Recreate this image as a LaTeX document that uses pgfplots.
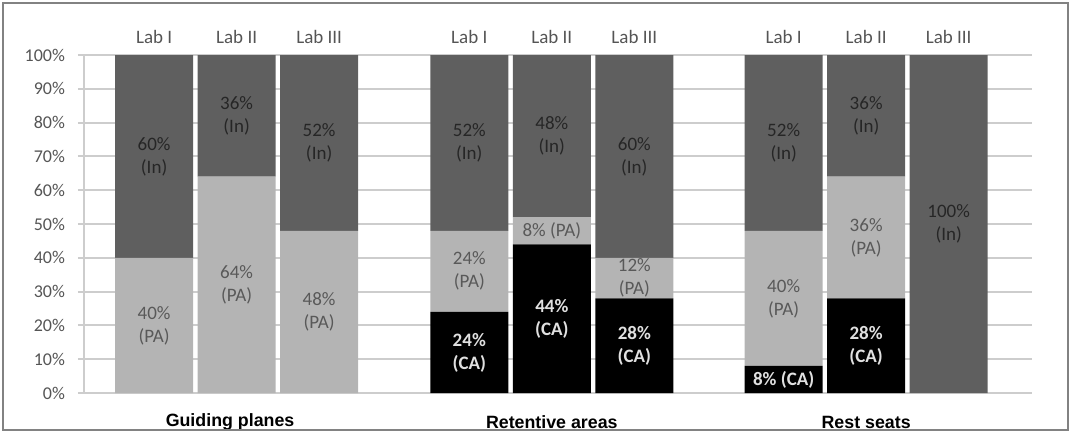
\documentclass[border=0pt]{standalone}
\usepackage{pgfplots}
\pgfplotsset{compat=1.18}
\usepackage{fontspec}
\setmainfont{Carlito}
\newfontfamily\arialf{Liberation Sans}
\definecolor{cIn}{RGB}{95,95,95}
\definecolor{cPA}{RGB}{180,180,180}
\definecolor{cCA}{RGB}{0,0,0}
\definecolor{gridc}{RGB}{205,205,205}
\definecolor{txt}{RGB}{85,85,85}
\definecolor{framec}{RGB}{130,130,130}
\tikzset{lbl/.style={align=center, font=\fontsize{9.5}{11.5}\selectfont, text=black!85},
  pl/.style={align=center, font=\fontsize{9.5}{11.5}\selectfont, text=black!65},
  wl/.style={align=center, font=\bfseries\fontsize{9.5}{11.5}\selectfont, text=white!88!black},
  grp/.style={font=\arialf\bfseries\fontsize{8.9}{10}\selectfont, yshift=-14.5pt}}
\begin{document}
\begin{tikzpicture}
\useasboundingbox (-42pt,-21pt) rectangle (494.5pt,196.5pt);
\begin{axis}[
  name=ax, at={(0,0)}, anchor=south west,
  scale only axis, width=474pt, height=169pt,
  ybar stacked, bar width=0.945,
  xmin=-0.85, xmax=10.64, ymin=0, ymax=100,
  axis x line*=top, axis y line*=left,
  x axis line style={draw=gridc, line width=1pt},
  y axis line style={draw=gridc, line width=1pt},
  xtick={0,1,2,3.82,4.82,5.82,7.63,8.63,9.63},
  xticklabels={Lab I,Lab II,Lab III,Lab I,Lab II,Lab III,Lab I,Lab II,Lab III},
  x tick style={draw=none},
  xticklabel style={font=\fontsize{9.5}{10}\selectfont, text=txt, yshift=-1pt},
  ytick={0,10,...,100},
  yticklabel={\pgfmathprintnumber{\tick}\%},
  yticklabel style={font=\fontsize{9}{10}\selectfont, text=txt, xshift=-3pt},
  /pgf/number format/assume math mode=true,
  y tick style={draw=gridc, line width=1pt},
  tick align=outside, major tick length=3pt,
  ymajorgrids, grid style={draw=gridc, line width=1pt},
  clip=false,
]
\addplot[fill=cCA, draw=none] coordinates {(0,0) (1,0) (2,0) (3.82,24) (4.82,44) (5.82,28) (7.63,8) (8.63,28) (9.63,0)};
\addplot[fill=cPA, draw=none] coordinates {(0,40) (1,64) (2,48) (3.82,24) (4.82,8) (5.82,12) (7.63,40) (8.63,36) (9.63,0)};
\addplot[fill=cIn, draw=none] coordinates {(0,60) (1,36) (2,52) (3.82,52) (4.82,48) (5.82,60) (7.63,52) (8.63,36) (9.63,100)};
\coordinate (l1) at (axis cs:0,70);
\coordinate (l2) at (axis cs:0,20);
\coordinate (l3) at (axis cs:1,82);
\coordinate (l4) at (axis cs:1,32);
\coordinate (l5) at (axis cs:2,74);
\coordinate (l6) at (axis cs:2,24);
\coordinate (l7) at (axis cs:3.82,74);
\coordinate (l8) at (axis cs:3.82,36);
\coordinate (l9) at (axis cs:3.82,12);
\coordinate (l10) at (axis cs:4.82,76);
\coordinate (l11) at (axis cs:4.82,48);
\coordinate (l12) at (axis cs:4.82,22);
\coordinate (l13) at (axis cs:5.82,70);
\coordinate (l14) at (axis cs:5.82,34);
\coordinate (l15) at (axis cs:5.82,14);
\coordinate (l16) at (axis cs:7.63,74);
\coordinate (l17) at (axis cs:7.63,28);
\coordinate (l18) at (axis cs:7.63,4);
\coordinate (l19) at (axis cs:8.63,82);
\coordinate (l20) at (axis cs:8.63,46);
\coordinate (l21) at (axis cs:8.63,14);
\coordinate (l22) at (axis cs:9.63,50);
\coordinate (g1) at (axis cs:0.92,0);
\coordinate (g2) at (axis cs:4.82,0);
\coordinate (g3) at (axis cs:8.63,0);
\end{axis}
\node[lbl] at (l1) {60\%\\(In)};
\node[pl] at (l2) {40\%\\(PA)};
\node[lbl] at (l3) {36\%\\(In)};
\node[pl] at (l4) {64\%\\(PA)};
\node[lbl] at (l5) {52\%\\(In)};
\node[pl] at (l6) {48\%\\(PA)};
\node[lbl] at (l7) {52\%\\(In)};
\node[pl] at (l8) {24\%\\(PA)};
\node[wl] at (l9) {24\%\\(CA)};
\node[lbl] at (l10) {48\%\\(In)};
\node[pl] at (l11) {8\% (PA)};
\node[wl] at (l12) {44\%\\(CA)};
\node[lbl] at (l13) {60\%\\(In)};
\node[pl] at (l14) {12\%\\(PA)};
\node[wl] at (l15) {28\%\\(CA)};
\node[lbl] at (l16) {52\%\\(In)};
\node[pl] at (l17) {40\%\\(PA)};
\node[wl] at (l18) {8\% (CA)};
\node[lbl] at (l19) {36\%\\(In)};
\node[pl] at (l20) {36\%\\(PA)};
\node[wl] at (l21) {28\%\\(CA)};
\node[lbl] at (l22) {100\%\\(In)};
\node[grp] at (g1) {Guiding planes};
\node[grp] at (g2) {Retentive areas};
\node[grp] at (g3) {Rest seats};
\draw[framec, line width=1.3pt] (-40.5pt,-18.5pt) rectangle (492pt,195pt);
\end{tikzpicture}
\end{document}
